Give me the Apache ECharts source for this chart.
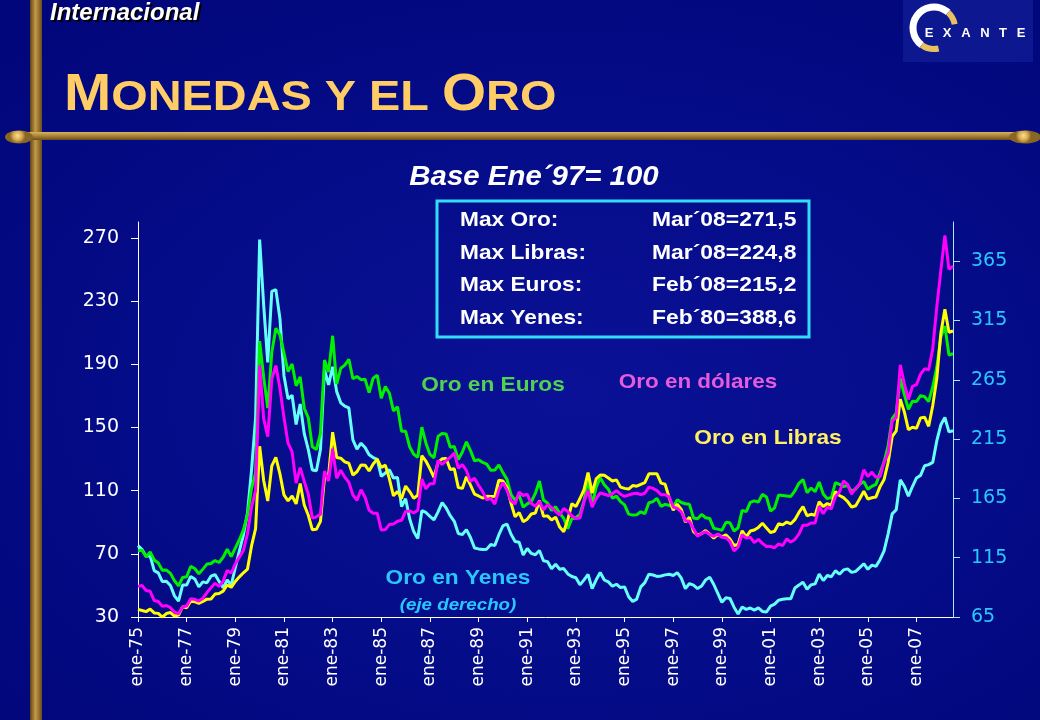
<!DOCTYPE html>
<html>
<head>
<meta charset="utf-8">
<script src="https://cdn.jsdelivr.net/npm/echarts@6/dist/echarts.min.js"></script>
<style>
html,body{margin:0;padding:0;width:1040px;height:720px;overflow:hidden;
background:radial-gradient(ellipse 75% 70% at 55% 55%, #0b1196 0%, #050c88 55%, #01067a 100%);}
#c{width:1040px;height:720px;}
</style>
</head>
<body>
<div id="c"></div>
<script>
// ---- Data (bimonthly, index base Ene-97 = 100) ----
const meses = ['ene','mar','may','jul','sep','nov'];
const anios = ['75','76','77','78','79','80','81','82','83','84','85','86','87','88','89','90','91',
               '92','93','94','95','96','97','98','99','00','01','02','03','04','05','06','07','08'];
const ticksIzq = [30,70,110,150,190,230,270];
const ticksDer = [65,115,165,215,265,315,365];

const oroDolares = [
49.4,49.9,46.8,46.3,40.4,39.8, 36.7,37.3,35.9,33.1,32.0,36.5, 37.0,41.5,41.2,40.1,41.8,45.4,
48.5,51.3,49.4,52.7,59.5,57.8, 63.7,67.9,72.1,82.7,99.6,110.0, 189.3,155.4,144.2,180.6,189.1,174.8,
156.2,140.0,134.6,114.7,124.5,115.8, 107.7,92.6,93.4,95.1,122.3,116.1, 136.5,117.8,122.9,118.4,115.3,107.2,
103.8,110.5,105.8,97.6,95.7,95.7, 85.0,85.3,88.6,88.9,90.6,91.2, 96.8,97.1,95.9,97.6,117.3,111.1,
114.4,114.4,129.0,126.5,129.0,131.0, 133.8,124.3,126.5,122.6,115.8,117.8, 113.3,109.4,104.1,105.2,101.5,110.5,
115.0,110.2,103.5,101.5,109.1,106.9, 107.7,101.8,100.1,103.2,97.9,101.0, 99.3,96.8,94.5,98.7,96.8,94.0,
92.3,92.6,102.9,110.0,99.6,104.9, 108.6,107.7,106.9,108.0,110.0,107.7, 106.3,107.2,108.0,108.3,107.4,108.3,
112.2,111.4,110.0,107.4,107.4,106.0, 99.6,98.7,96.5,90.9,90.6,85.8, 81.1,83.0,83.9,82.2,81.1,82.5,
80.5,80.2,77.7,71.8,74.3,82.2, 79.9,80.5,77.1,79.1,76.6,74.6, 74.6,73.8,76.3,75.2,79.4,77.4,
79.1,82.5,88.1,88.1,89.5,89.5, 100.1,95.4,99.6,98.5,106.3,109.1, 116.1,113.9,107.7,111.6,113.9,123.1,
118.9,121.7,118.4,118.9,127.9,133.5, 154.0,156.2,189.6,177.6,167.7,175.9, 177.0,183.7,187.1,186.5,199.7,226.1,
249.4,271.5,250.0,252.0
];
const oroLibras = [
34.8,34.1,33.4,35.0,32.6,32.3, 29.9,32.2,32.8,30.6,31.2,36.6, 35.8,40.0,39.7,38.6,39.8,41.3,
41.4,44.5,44.9,46.4,50.3,48.8, 52.5,55.4,58.0,60.3,75.0,85.9, 138.1,116.4,103.4,125.7,131.0,120.6,
107.3,103.5,106.6,101.6,114.5,100.9, 94.4,85.2,85.5,90.5,118.4,119.4, 147.0,130.9,130.5,128.2,127.3,119.9,
121.9,126.2,126.1,122.4,126.8,129.9, 124.6,126.1,117.4,106.7,109.5,104.9, 112.9,109.4,105.2,107.0,132.1,128.7,
123.8,118.4,127.9,130.1,130.3,123.3, 123.8,111.9,111.4,118.7,113.5,107.8, 106.6,105.3,106.4,106.2,106.4,116.6,
116.1,112.0,102.0,93.4,96.1,90.3, 91.9,95.2,95.8,103.6,93.7,94.0, 91.4,93.2,86.9,84.0,91.6,101.7,
99.9,105.0,110.6,121.4,108.5,117.4, 119.9,119.7,118.0,116.1,116.8,112.2, 111.4,111.0,113.2,112.8,114.0,115.0,
120.6,120.6,120.6,114.7,114.0,105.7, 97.6,101.5,98.0,90.1,93.2,84.1, 81.9,82.8,84.7,82.5,79.9,82.3,
80.8,82.0,79.4,75.3,75.9,84.6, 80.7,84.4,85.1,86.7,89.3,86.4, 83.5,84.3,89.0,88.3,90.1,89.0,
91.6,96.2,99.9,94.1,95.0,94.4, 103.0,100.0,101.8,100.7,109.3,106.9, 105.6,103.1,99.6,100.4,104.8,109.6,
104.7,105.5,106.0,112.5,117.0,127.8, 144.1,147.8,167.9,159.8,148.5,150.1, 149.5,156.0,156.5,150.7,163.7,180.9,
209.6,224.8,210.2,211.0
];
const oroEuros = [
71.9,72.3,68.1,71.2,66.1,64.2, 59.6,59.7,57.6,52.9,49.8,55.0, 55.5,62.0,60.7,57.4,60.3,63.5,
63.9,65.7,64.5,67.8,72.9,68.3, 73.6,78.9,85.1,94.6,111.4,121.0, 204.6,181.6,162.2,197.5,212.7,208.6,
197.1,185.4,190.1,176.3,182.0,162.1, 156.1,137.7,136.0,146.2,192.6,185.0, 208.0,177.4,187.4,189.4,193.1,180.8,
182.2,180.2,180.5,172.0,181.2,183.0, 168.4,175.9,171.6,160.5,163.0,147.6, 147.6,137.7,133.0,131.1,150.2,140.2,
132.9,130.8,144.3,146.2,145.9,137.5, 137.9,129.7,134.4,140.9,135.3,128.8, 129.5,127.8,126.8,122.9,123.0,126.3,
121.4,117.1,107.4,104.0,107.0,99.5, 101.6,103.0,108.2,116.1,104.0,102.2, 97.4,99.8,95.7,92.5,85.9,92.2,
92.8,94.9,103.5,117.5,100.8,112.1, 118.1,113.7,110.9,105.3,106.5,103.0, 101.0,95.1,94.5,94.7,96.6,95.4,
102.3,103.0,105.1,100.0,101.3,100.7, 99.6,104.2,102.5,101.7,101.3,92.7, 92.2,94.9,92.8,92.4,86.1,85.6,
84.8,89.9,89.6,84.4,86.5,97.5, 96.7,102.5,103.5,102.8,107.6,106.0, 97.0,99.1,107.2,106.9,106.6,106.3,
109.8,114.6,117.0,108.7,111.6,109.4, 115.4,107.9,104.9,105.6,115.0,113.9, 112.6,113.2,109.7,110.9,114.1,115.7,
110.9,112.7,113.9,121.1,128.1,138.3, 155.5,159.1,181.0,170.9,161.4,166.6, 166.4,170.1,169.4,166.4,175.6,188.0,
207.3,214.1,195.8,196.6
];
const oroYenes = [
125.2,121.8,116.2,116.6,104.1,102.2, 94.9,95.2,91.6,82.8,78.4,91.9, 91.9,99.2,97.1,90.4,94.6,93.8,
99.4,100.8,95.0,89.6,96.2,91.9, 106.7,120.7,134.3,152.6,188.9,232.9, 383.2,327.8,279.6,339.5,341.0,316.7,
268.4,248.9,251.9,227.3,244.6,219.6, 206.1,189.0,188.3,206.3,273.6,260.7, 276.0,255.0,245.6,242.7,241.2,214.3,
206.6,211.5,207.9,201.7,199.4,197.8, 183.6,186.4,189.1,182.2,182.6,158.2, 164.7,147.8,137.0,131.2,154.6,153.1,
149.8,146.9,153.6,161.4,156.9,150.4, 145.7,135.3,134.5,138.7,132.0,123.2, 122.4,121.9,122.2,126.2,125.2,134.4,
141.8,143.4,134.7,128.6,128.1,117.3, 122.7,118.6,117.5,121.1,112.4,111.7, 105.6,109.5,105.3,105.8,101.3,99.1,
98.1,92.1,96.3,101.0,88.9,96.4, 102.5,96.2,94.6,90.9,92.6,89.8, 90.4,82.1,78.1,80.1,90.4,94.0,
101.1,100.4,99.2,99.6,100.5,101.0, 100.0,102.4,97.7,88.9,93.2,91.9, 89.0,91.1,96.3,98.6,92.4,84.9,
77.4,81.2,80.6,73.3,67.6,73.4, 71.4,72.6,70.8,72.7,69.7,69.2, 74.2,75.9,79.2,79.9,80.4,80.3,
89.5,91.9,94.4,88.4,92.1,92.9, 101.3,95.7,100.0,98.9,104.0,101.1, 104.7,105.6,102.6,103.5,106.6,109.9,
105.2,108.7,107.7,113.3,120.8,135.1, 151.9,155.4,180.6,175.2,166.9,175.0, 182.2,184.4,192.5,193.5,195.3,213.5,
227.0,233.2,221.1,222.0
];

const categorias = [];
anios.forEach(a => meses.forEach(m => categorias.push(m + '-' + a)));
categorias.length = oroDolares.length;

// ---- Chart ----
const chart = echarts.init(document.getElementById('c'), null, {renderer: 'canvas'});
const F = '"Liberation Sans", Arial, sans-serif';
const gold = '#FFCC66';

const barGrad = new echarts.graphic.LinearGradient(0, 0, 1, 0, [
  {offset: 0, color: '#5e4416'}, {offset: 0.45, color: '#c49a48'}, {offset: 1, color: '#6a4c1a'}]);
const ruleGrad = new echarts.graphic.LinearGradient(0, 0, 0, 1, [
  {offset: 0, color: '#d8b25e'}, {offset: 0.5, color: '#a98238'}, {offset: 1, color: '#6a4c1a'}]);
const knobGrad = () => new echarts.graphic.RadialGradient(0.45, 0.4, 0.6, [
  {offset: 0, color: '#ffe08a'}, {offset: 0.6, color: '#d2a84e'}, {offset: 1, color: '#8a6624'}]);

function txt(text, x, y, font, fill, align, valign, sx, z) {
  return {type: 'text', z: z || 10, x: x, y: y, scaleX: sx || 1,
    style: {text, x: 0, y: 0, font, fill,
      textAlign: align || 'left', align: align || 'left',
      textVerticalAlign: valign || 'middle', verticalAlign: valign || 'middle'}};
}

const logoLetters = ['E','X','A','N','T','E'];
const logoX = [929, 947, 966, 985, 1003, 1021];

const graphics = [
  {type: 'rect', z: 1, shape: {x: 30, y: 0, width: 12, height: 720}, style: {fill: barGrad}},
  {type: 'rect', z: 2, shape: {x: 18, y: 132, width: 1000, height: 8}, style: {fill: ruleGrad}},
  {type: 'ellipse', z: 3, shape: {cx: 19, cy: 137, rx: 14, ry: 6.5}, style: {fill: knobGrad()}},
  {type: 'ellipse', z: 3, shape: {cx: 1025, cy: 137, rx: 16, ry: 6.5}, style: {fill: knobGrad()}},
  // logo
  {type: 'rect', z: 2, shape: {x: 903, y: 0, width: 130, height: 62}, style: {fill: '#0d1890'}},
  {type: 'arc', z: 4, shape: {cx: 934, cy: 28, r: 21, startAngle: 2.2, endAngle: 5.45, clockwise: true},
    style: {stroke: '#ffffff', lineWidth: 7, fill: null}},
  {type: 'arc', z: 4, shape: {cx: 934, cy: 28, r: 21, startAngle: 5.45, endAngle: 6.1, clockwise: true},
    style: {stroke: '#e8c060', lineWidth: 6, fill: null}},
  {type: 'arc', z: 4, shape: {cx: 934, cy: 28, r: 21, startAngle: 1.35, endAngle: 2.2, clockwise: true},
    style: {stroke: '#e8c060', lineWidth: 6, fill: null}},
  ...logoLetters.map((l, i) => txt(l, logoX[i], 33, 'bold 13px ' + F, '#ffffff', 'center', 'middle', 1, 5)),
  // header
  txt('Internacional', 52, 3, 'italic bold 24px ' + F, '#000000', 'left', 'top', 1, 9),
  txt('Internacional', 50, 1, 'italic bold 24px ' + F, '#ffffff', 'left', 'top', 1, 10),
  // main title (small caps)
  {type: 'text', z: 10, x: 64, y: 122, scaleX: 1.09,
    style: {x: 0, y: 0, text: '{b|M}{s|ONEDAS Y EL }{b|O}{s|RO}',
      textAlign: 'left', align: 'left', textVerticalAlign: 'bottom', verticalAlign: 'bottom',
      rich: {
        b: {fontSize: 52, fontWeight: 'bold', fontFamily: F, fill: gold, verticalAlign: 'bottom'},
        s: {fontSize: 43, fontWeight: 'bold', fontFamily: F, fill: gold, verticalAlign: 'bottom', padding: [0, 0, 2, 0]}
      }}},
  // subtitle
  txt('Base Ene\u00B497= 100', 534, 177, 'italic bold 28px ' + F, '#ffffff', 'center', 'middle', 1.05),
  // max box
  {type: 'rect', z: 10, shape: {x: 437, y: 201, width: 372, height: 136},
    style: {fill: null, stroke: '#32DCFF', lineWidth: 3}},
  txt('Max Oro:', 460, 220, 'bold 21px ' + F, '#ffffff', 'left', 'middle', 1.08),
  txt('Max Libras:', 460, 253, 'bold 21px ' + F, '#ffffff', 'left', 'middle', 1.08),
  txt('Max Euros:', 460, 285, 'bold 21px ' + F, '#ffffff', 'left', 'middle', 1.08),
  txt('Max Yenes:', 460, 318, 'bold 21px ' + F, '#ffffff', 'left', 'middle', 1.08),
  txt('Mar\u00B408=271,5', 652, 220, 'bold 21px ' + F, '#ffffff', 'left', 'middle', 1.09),
  txt('Mar\u00B408=224,8', 652, 253, 'bold 21px ' + F, '#ffffff', 'left', 'middle', 1.09),
  txt('Feb\u00B408=215,2', 652, 285, 'bold 21px ' + F, '#ffffff', 'left', 'middle', 1.09),
  txt('Feb\u00B480=388,6', 652, 318, 'bold 21px ' + F, '#ffffff', 'left', 'middle', 1.09),
  // series labels
  txt('Oro en Euros', 493, 385, 'bold 21px ' + F, '#50D250', 'center', 'middle', 1.08),
  txt('Oro en d\u00F3lares', 698, 382, 'bold 21px ' + F, '#E65ADC', 'center', 'middle', 1.07),
  txt('Oro en Libras', 768, 438, 'bold 21px ' + F, '#FFF064', 'center', 'middle', 1.08),
  txt('Oro en Yenes', 458, 578, 'bold 21px ' + F, '#28C8FF', 'center', 'middle', 1.08),
  txt('(eje derecho)', 458, 606, 'italic bold 16px ' + F, '#28C8FF', 'center', 'middle', 1.17)
];

const option = {
  backgroundColor: 'transparent',
  animation: false,
  grid: {left: 138, right: 87, top: 222, bottom: 103, containLabel: false},
  xAxis: {
    type: 'category', data: categorias, boundaryGap: false,
    axisLine: {lineStyle: {color: '#ffffff', width: 1}},
    axisTick: {show: true, interval: 11, length: 5, lineStyle: {color: '#ffffff'}},
    axisLabel: {interval: 11, rotate: 90, color: '#ffffff', fontFamily: 'DejaVu Sans', fontSize: 17, margin: 10},
    splitLine: {show: false}
  },
  yAxis: [
    {type: 'value', min: 30, max: 280, position: 'left',
      axisLine: {show: true, lineStyle: {color: '#ffffff', width: 1}},
      axisTick: {show: true, length: 7, lineStyle: {color: '#ffffff'}, customValues: ticksIzq},
      axisLabel: {color: '#ffffff', fontFamily: 'DejaVu Sans', fontSize: 19, margin: 19, customValues: ticksIzq},
      splitLine: {show: false}},
    {type: 'value', min: 65, max: 398, position: 'right',
      axisLine: {show: true, lineStyle: {color: '#A8E6FF', width: 1}},
      axisTick: {show: true, length: 7, lineStyle: {color: '#A8E6FF'}, customValues: ticksDer},
      axisLabel: {color: '#28C8FF', fontFamily: 'DejaVu Sans', fontSize: 19, margin: 18, customValues: ticksDer},
      splitLine: {show: false}}
  ],
  series: [
    {name: 'Oro en Yenes', type: 'line', yAxisIndex: 1, data: oroYenes, showSymbol: false,
      lineStyle: {color: '#66FFFF', width: 3}, itemStyle: {color: '#66FFFF'}},
    {name: 'Oro en Euros', type: 'line', data: oroEuros, showSymbol: false,
      lineStyle: {color: '#00F000', width: 3}, itemStyle: {color: '#00F000'}},
    {name: 'Oro en Libras', type: 'line', data: oroLibras, showSymbol: false,
      lineStyle: {color: '#FFFF00', width: 3}, itemStyle: {color: '#FFFF00'}},
    {name: 'Oro en d\u00F3lares', type: 'line', data: oroDolares, showSymbol: false,
      lineStyle: {color: '#FF00FF', width: 3}, itemStyle: {color: '#FF00FF'}}
  ],
  graphic: graphics
};
chart.setOption(option);
</script>
</body>
</html>
